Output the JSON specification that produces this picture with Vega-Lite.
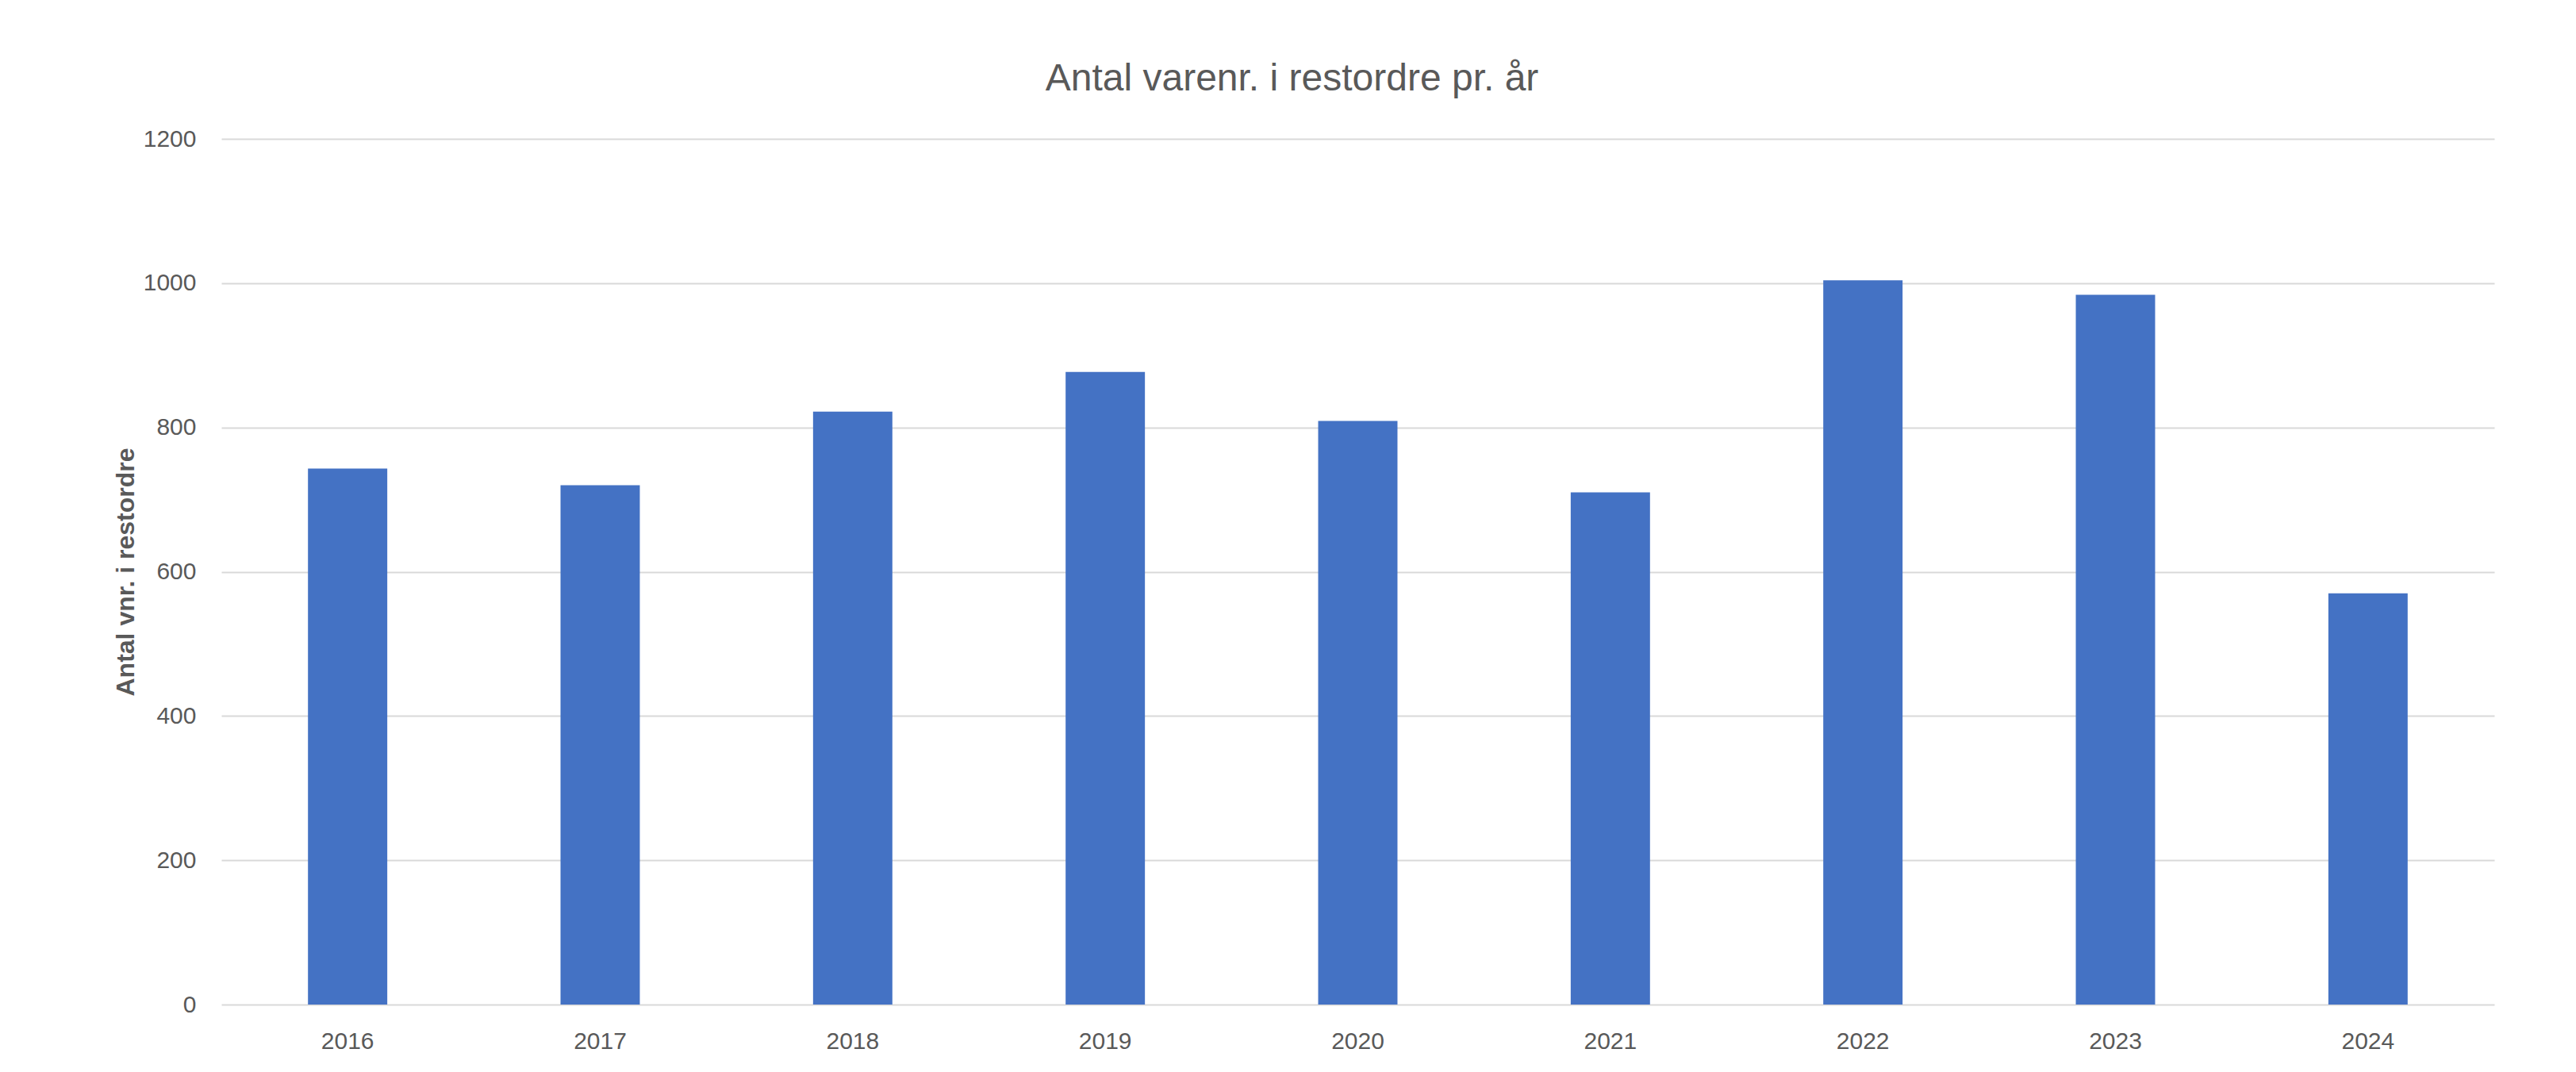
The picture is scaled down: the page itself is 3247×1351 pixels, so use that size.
{
  "$schema": "https://vega.github.io/schema/vega-lite/v6.json",
  "autosize": {"type": "none"},
  "padding": {"left": 279, "top": 175, "right": 103, "bottom": 85},
  "width": 2865,
  "height": 1091,
  "background": "#ffffff",
  "title": {
    "text": "Antal varenr. i restordre pr. år",
    "anchor": "middle",
    "dx": -83,
    "offset": 36,
    "font": "Liberation Sans",
    "fontSize": 48,
    "fontWeight": "normal",
    "color": "#595959"
  },
  "data": {
    "values": [
      {"year": "2016", "count": 743},
      {"year": "2017", "count": 720},
      {"year": "2018", "count": 822},
      {"year": "2019", "count": 877},
      {"year": "2020", "count": 809},
      {"year": "2021", "count": 710},
      {"year": "2022", "count": 1004},
      {"year": "2023", "count": 984},
      {"year": "2024", "count": 570}
    ]
  },
  "mark": {"type": "bar", "color": "#4472C4"},
  "encoding": {
    "x": {
      "field": "year",
      "type": "ordinal",
      "scale": {"paddingInner": 0.686, "paddingOuter": 0.343},
      "axis": {
        "title": null,
        "labelAngle": 0,
        "domain": false,
        "ticks": false,
        "tickSize": 0,
        "grid": false,
        "labelPadding": 31,
        "labelFont": "Liberation Sans",
        "labelFontSize": 30,
        "labelColor": "#595959"
      }
    },
    "y": {
      "field": "count",
      "type": "quantitative",
      "scale": {"domain": [0, 1200], "nice": false},
      "axis": {
        "title": "Antal vnr. i restordre",
        "titleFont": "Liberation Sans",
        "titleFontSize": 32,
        "titleFontWeight": "bold",
        "titleColor": "#595959",
        "titlePadding": 5,
        "values": [0, 200, 400, 600, 800, 1000, 1200],
        "format": "d",
        "domain": false,
        "ticks": false,
        "tickSize": 0,
        "labelPadding": 32,
        "labelFont": "Liberation Sans",
        "labelFontSize": 30,
        "labelColor": "#595959",
        "grid": true,
        "gridColor": "#d9d9d9",
        "gridWidth": 2
      }
    }
  },
  "config": {
    "view": {"stroke": null}
  }
}
